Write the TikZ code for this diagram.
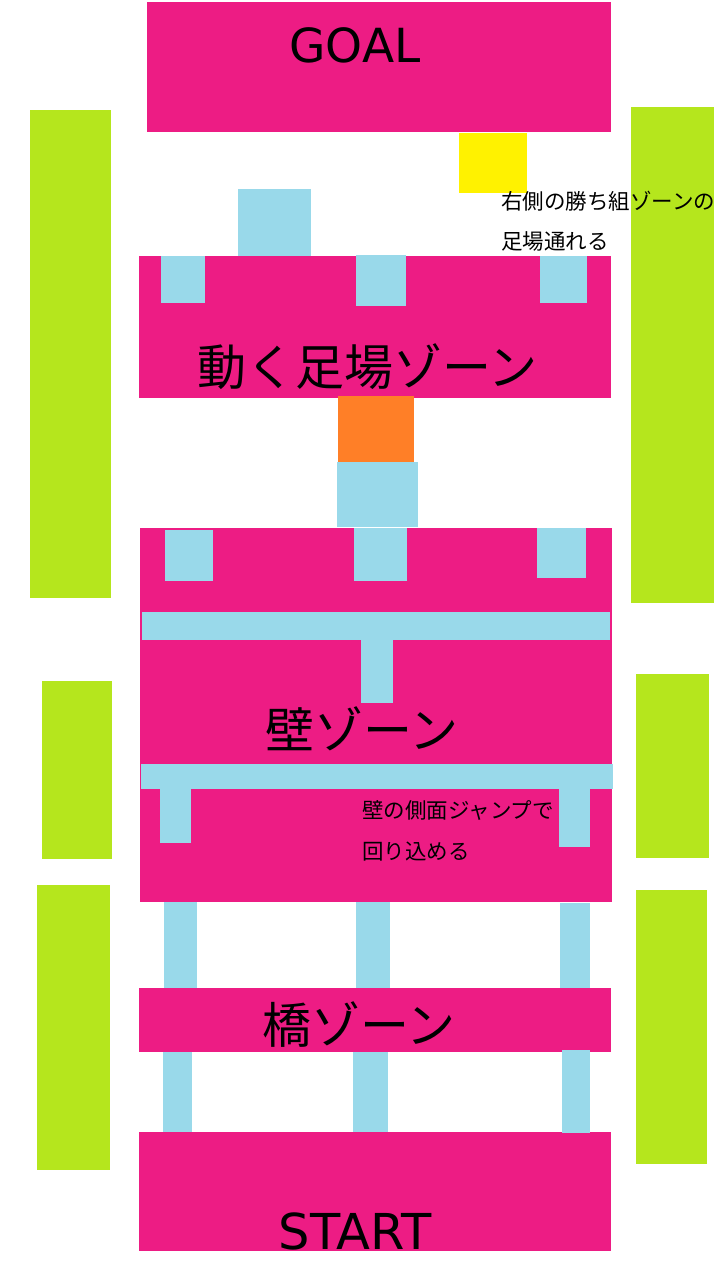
\documentclass[tikz,border=0pt]{standalone}
\usepackage{fontspec}
\setmainfont{DejaVu Sans}
\newfontfamily\jpfont{Noto Sans CJK JP}
\definecolor{zonepink}{RGB}{237,28,132}
\definecolor{padblue}{RGB}{153,217,234}
\definecolor{sidelime}{RGB}{181,230,29}
\definecolor{goalyellow}{RGB}{255,242,0}
\definecolor{liftorange}{RGB}{255,127,39}
\begin{document}
\begin{tikzpicture}[x=1pt,y=-1pt,
    zone/.style={fill=zonepink},
    pad/.style={fill=padblue},
    side/.style={fill=sidelime},
    bigtext/.style={inner sep=0pt,anchor=base,font=\fontsize{47}{47}\selectfont},
    zonetext/.style={inner sep=0pt,anchor=base west,font=\jpfont\fontsize{49}{49}\selectfont},
    notetext/.style={inner sep=0pt,anchor=base west,font=\jpfont\fontsize{21.5}{21.5}\selectfont}]
	  \useasboundingbox[fill=white] (0,0) rectangle (720,1280);

	  % side areas
	  \fill[side] (30,110) rectangle (111,598);
	  \fill[side] (631,107) rectangle (714,603);
	  \fill[side] (42,681) rectangle (112,859);
	  \fill[side] (636,674) rectangle (709,858);
	  \fill[side] (37,885) rectangle (110,1170);
	  \fill[side] (636,890) rectangle (707,1164);

	  % zones
	  \fill[zone] (147,2) rectangle (611,132);
	  \fill[zone] (139,256) rectangle (611,398);
	  \fill[zone] (140,528) rectangle (612,902);
	  \fill[zone] (139,988) rectangle (611,1052);
	  \fill[zone] (139,1132) rectangle (611,1251);

	  \fill[goalyellow] (459,133) rectangle (527,193);
	  \fill[liftorange] (338,396) rectangle (414,462);

	  % footholds
	  \fill[pad] (238,189) rectangle (311,256);
	  \fill[pad] (161,256) rectangle (205,303);
	  \fill[pad] (356,255) rectangle (406,306);
	  \fill[pad] (540,256) rectangle (587,303);
	  \fill[pad] (337,462) rectangle (418,527);
	  \fill[pad] (165,530) rectangle (213,581);
	  \fill[pad] (354,528) rectangle (407,581);
	  \fill[pad] (537,528) rectangle (586,578);

	  % walls
	  \fill[pad] (142,612) rectangle (610,640);
	  \fill[pad] (361,640) rectangle (393,703);
	  \fill[pad] (141,764) rectangle (613,789);
	  \fill[pad] (160,789) rectangle (191,843);
	  \fill[pad] (559,789) rectangle (590,847);

	  % bridges
	  \fill[pad] (164,902) rectangle (197,988);
	  \fill[pad] (356,902) rectangle (390,988);
	  \fill[pad] (560,903) rectangle (590,988);
	  \fill[pad] (163,1052) rectangle (192,1132);
	  \fill[pad] (353,1052) rectangle (388,1132);
	  \fill[pad] (562,1050) rectangle (590,1133);

	  \node[bigtext] (goal) at (355,62) {GOAL};
	  \node[bigtext,font=\fontsize{49.5}{49.5}\selectfont] (start) at (355,1249) {START};
	  \node[zonetext] (liftzone) at (197,385) {動く足場ゾーン};
	  \node[zonetext] (wallzone) at (265,748) {壁ゾーン};
	  \node[zonetext] (bridgezone) at (262,1043) {橋ゾーン};
	  \node[notetext] (note1a) at (501,209) {右側の勝ち組ゾーンの};
	  \node[notetext] (note1b) at (501,249) {足場通れる};
	  \node[notetext] (note2a) at (362,818) {壁の側面ジャンプで};
	  \node[notetext] (note2b) at (362,859) {回り込める};
\end{tikzpicture}
\end{document}
